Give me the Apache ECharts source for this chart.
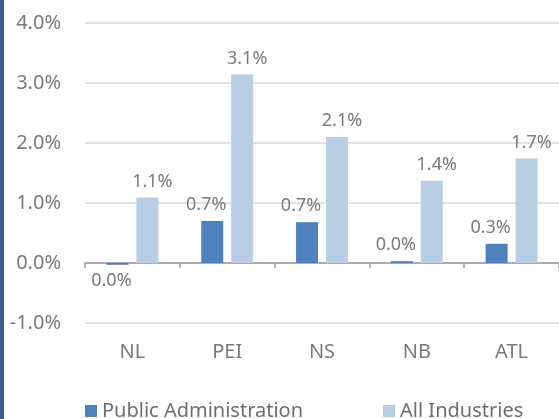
<!DOCTYPE html>
<html>
<head>
<meta charset="utf-8">
<script src="https://cdn.jsdelivr.net/npm/echarts@6/dist/echarts.min.js"></script>
<style>
html,body{margin:0;padding:0;background:#fff;}
#chart{width:559px;height:419px;}
</style>
</head>
<body>
<div id="chart"></div>
<script>
const categories = ['NL', 'PEI', 'NS', 'NB', 'ATL'];
const publicAdmin = [-0.03, 0.70, 0.68, 0.03, 0.32];
const allIndustries = [1.09, 3.14, 2.10, 1.37, 1.74];
const seriesNames = ['Public Administration', 'All Industries'];
const yMin = -1, yMax = 4, yStep = 1;

function pct(v) {
  let s = Number(v).toFixed(1);
  if (s === '-0.0') s = '0.0';
  return s + '%';
}

const labelStyle = { color: '#7a7a7a', fontSize: 18, fontFamily: 'Noto Sans', distance: 7 };

function buildData(arr, dx) {
  return arr.map(v => ({
    value: v,
    label: { position: v < 0 ? 'bottom' : 'top', offset: [dx, 0] }
  }));
}

const chart = echarts.init(document.getElementById('chart'));
chart.setOption({
  animation: false,
  backgroundColor: '#ffffff',
  textStyle: { fontFamily: 'Noto Sans' },
  graphic: [{
    type: 'rect', left: 0, top: 0, shape: { x: 0, y: 0, width: 4, height: 419 },
    style: { fill: '#3b5c8f' }, silent: true
  }],
  grid: { left: 85, right: -5, top: 23, bottom: 96, containLabel: false },
  legend: {
    data: seriesNames,
    left: 80, top: 396,
    itemWidth: 12, itemHeight: 12, itemGap: 80,
    icon: 'rect',
    textStyle: { color: '#6e6e6e', fontSize: 20, fontFamily: 'Noto Sans' }
  },
  xAxis: [{
    type: 'category', data: categories,
    axisLine: { show: true, onZero: true, lineStyle: { color: '#9a9a9a', width: 1.5 } },
    axisTick: { show: true, length: 5, lineStyle: { color: '#9a9a9a', width: 1.5 } },
    axisLabel: { show: false },
    splitLine: { show: false }
  }, {
    type: 'category', data: categories, position: 'bottom',
    axisLine: { show: false, onZero: false },
    axisTick: { show: false },
    axisLabel: { show: true, color: '#7a7a7a', fontSize: 20, fontFamily: 'Noto Sans', margin: 19 },
    splitLine: { show: false }
  }],
  yAxis: {
    type: 'value', min: yMin, max: yMax, interval: yStep,
    axisLine: { show: false }, axisTick: { show: false },
    axisLabel: { color: '#7a7a7a', fontSize: 20, fontFamily: 'Noto Sans', margin: 24, formatter: v => pct(v) },
    splitLine: { lineStyle: { color: '#d9d9d9', width: 1.5 } }
  },
  series: [{
    name: seriesNames[0], type: 'bar', xAxisIndex: 0,
    data: buildData(publicAdmin, -6),
    barWidth: 22, barGap: '36%',
    itemStyle: { color: '#4f81bd' },
    label: Object.assign({ show: true, formatter: p => pct(p.value) }, labelStyle)
  }, {
    name: seriesNames[1], type: 'bar', xAxisIndex: 0,
    data: buildData(allIndustries, 5),
    barWidth: 22, barGap: '36%',
    itemStyle: { color: '#b9cde5' },
    label: Object.assign({ show: true, formatter: p => pct(p.value) }, labelStyle)
  }]
});
</script>
</body>
</html>
